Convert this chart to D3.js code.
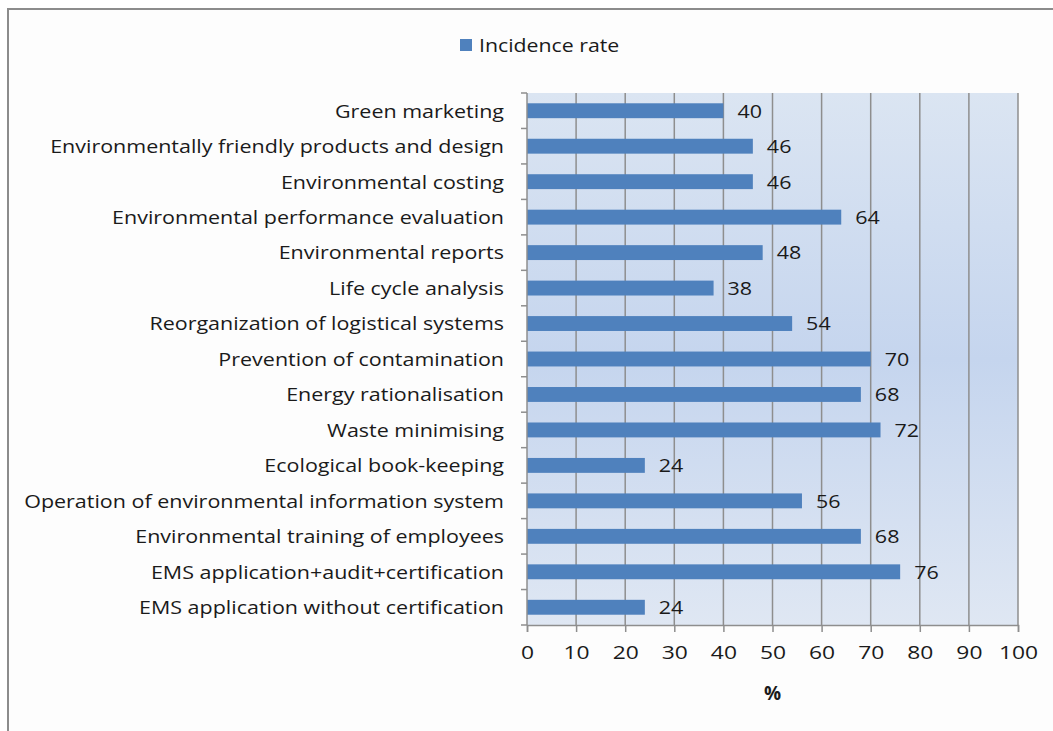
<!DOCTYPE html>
<html>
<head>
<meta charset="utf-8">
<script src="https://cdn.jsdelivr.net/npm/d3@7"></script>
<style>
body { margin:0; background:#fff; }
svg { display:block; font-family: "Open Sans", "Noto Sans", sans-serif; }
</style>
</head>
<body>
<script>
// data
var categories = [
  "Green marketing",
  "Environmentally friendly products and design",
  "Environmental costing",
  "Environmental performance evaluation",
  "Environmental reports",
  "Life cycle analysis",
  "Reorganization of logistical systems",
  "Prevention of contamination",
  "Energy rationalisation",
  "Waste minimising",
  "Ecological book-keeping",
  "Operation of environmental information system",
  "Environmental training of employees",
  "EMS application+audit+certification",
  "EMS application without certification"
];
var values = [40, 46, 46, 64, 48, 38, 54, 70, 68, 72, 24, 56, 68, 76, 24];
var xTicks = [0, 10, 20, 30, 40, 50, 60, 70, 80, 90, 100];
var seriesName = "Incidence rate";
var axisTitle = "%";

var W = 1053, H = 731;
var svg = d3.select("body").append("svg").attr("width", W).attr("height", H);

// the picture's text is a bit wider than our font, stretch it
function stretch(sel, k) {
  sel.each(function(){
    var len = this.getComputedTextLength();
    d3.select(this).attr("textLength", len * k).attr("lengthAdjust", "spacingAndGlyphs");
  });
}

// chart frame
svg.append("rect").attr("width", W).attr("height", H).attr("fill", "#fff");
svg.append("rect").attr("x", 8).attr("y", 9).attr("width", W).attr("height", H)
  .attr("fill", "#fdfdfd").attr("stroke", "#8c8c8c").attr("stroke-width", 2);

var pL = 527, pR = 1018, pT = 93, pB = 625;

var x = d3.scaleLinear().domain([0, 100]).range([pL, pR]);
var y = d3.scaleBand().domain(categories).range([pT, pB]).paddingInner(0.58).paddingOuter(0.29);
var yb = d3.scaleBand().domain(categories).range([pT, pB]);

// plot background gradient
var defs = svg.append("defs");
var g = defs.append("linearGradient").attr("id", "bg").attr("x1", 0).attr("y1", 0).attr("x2", 0).attr("y2", 1);
g.append("stop").attr("offset", "0%").attr("stop-color", "#dbe5f2");
g.append("stop").attr("offset", "50%").attr("stop-color", "#c5d5ee");
g.append("stop").attr("offset", "100%").attr("stop-color", "#dfe7f3");
svg.append("rect").attr("x", pL).attr("y", pT).attr("width", pR - pL).attr("height", pB - pT)
  .attr("fill", "url(#bg)");

// gridlines
svg.selectAll("line.grid").data(xTicks.slice(1)).enter().append("line")
  .attr("class", "grid")
  .attr("x1", function(d){ return x(d); }).attr("x2", function(d){ return x(d); })
  .attr("y1", pT).attr("y2", pB)
  .attr("stroke", "#8e8e8e").attr("stroke-width", 1.5);

// bars
svg.selectAll("rect.bar").data(values).enter().append("rect")
  .attr("class", "bar")
  .attr("x", x(0))
  .attr("y", function(d, i){ return y(categories[i]); })
  .attr("width", function(d){ return x(d) - x(0); })
  .attr("height", y.bandwidth())
  .attr("fill", "#4f81bd");

// value labels
svg.selectAll("text.val").data(values).enter().append("text")
  .attr("class", "val")
  .attr("x", function(d){ return x(d) + 14; })
  .attr("y", function(d, i){ return yb(categories[i]) + yb.bandwidth() / 2; })
  .attr("dy", "0.36em")
  .attr("font-size", 19).attr("fill", "#1a1a1a")
  .text(function(d){ return d; })
  .call(stretch, 1.13);

// y axis
var yAxis = svg.append("g").attr("transform", "translate(" + pL + ",0)");
yAxis.append("line").attr("x1", 0).attr("x2", 0).attr("y1", pT).attr("y2", pB).attr("stroke", "#8e8e8e").attr("stroke-width", 1.5);
var bounds = categories.map(function(c){ return yb(c); }).concat([pB]);
yAxis.selectAll("line.tk").data(bounds).enter().append("line")
  .attr("class", "tk")
  .attr("x1", -6).attr("x2", 0)
  .attr("y1", function(d){ return d; }).attr("y2", function(d){ return d; })
  .attr("stroke", "#8e8e8e").attr("stroke-width", 1.5);
yAxis.selectAll("text").data(categories).enter().append("text")
  .attr("x", -23)
  .attr("y", function(d){ return yb(d) + yb.bandwidth() / 2; })
  .attr("dy", "0.36em")
  .attr("text-anchor", "end")
  .attr("font-size", 19).attr("fill", "#1a1a1a")
  .text(function(d){ return d; })
  .call(stretch, 1.13);

// x axis
var xAxis = svg.append("g").attr("transform", "translate(0," + pB + ")")
  .call(d3.axisBottom(x).tickValues(xTicks).tickSize(7).tickPadding(14).tickFormat(d3.format("d")));
xAxis.select(".domain").attr("stroke", "#8e8e8e").attr("stroke-width", 1.5);
xAxis.selectAll(".tick line").attr("stroke", "#8e8e8e").attr("stroke-width", 1.5);
xAxis.selectAll(".tick text").attr("font-size", 19).attr("fill", "#1a1a1a").attr("font-family", "Open Sans")
  .call(stretch, 1.2);

svg.append("text").attr("x", (pL + pR) / 2).attr("y", 700)
  .attr("text-anchor", "middle").attr("font-size", 19).attr("font-weight", "bold").attr("fill", "#1a1a1a")
  .text(axisTitle);

// legend
svg.append("rect").attr("x", 460).attr("y", 39).attr("width", 12).attr("height", 12).attr("fill", "#4f81bd");
svg.append("text").attr("x", 479).attr("y", 45).attr("dy", "0.36em")
  .attr("font-size", 19).attr("fill", "#1a1a1a").text(seriesName)
  .call(stretch, 1.12);
</script>
</body>
</html>
